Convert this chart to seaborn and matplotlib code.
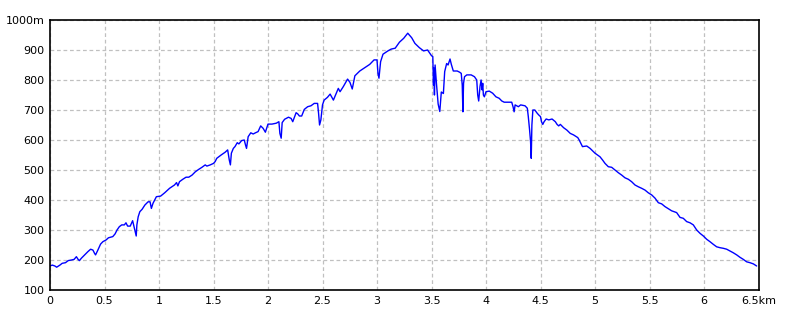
import matplotlib
matplotlib.use("Agg")
import matplotlib.pyplot as plt
import seaborn as sns
import pandas as pd

distance_km = [
    0.0, 0.021, 0.045, 0.061, 0.091, 0.112, 0.142, 0.167, 0.197, 0.221, 0.242, 0.258, 0.27, 0.288,
    0.318, 0.348, 0.373, 0.394, 0.409, 0.418, 0.439, 0.464, 0.485, 0.515, 0.536, 0.576, 0.597, 0.615,
    0.636, 0.658, 0.682, 0.697, 0.712, 0.736, 0.758, 0.767, 0.791, 0.797, 0.809, 0.824, 0.845, 0.87,
    0.9, 0.918, 0.93, 0.945, 0.976, 1.015, 1.052, 1.097, 1.142, 1.161, 1.173, 1.188, 1.218, 1.248,
    1.273, 1.303, 1.333, 1.364, 1.394, 1.424, 1.439, 1.47, 1.5, 1.515, 1.53, 1.57, 1.606, 1.63,
    1.645, 1.655, 1.664, 1.682, 1.697, 1.718, 1.733, 1.758, 1.782, 1.794, 1.803, 1.818, 1.842, 1.864,
    1.885, 1.909, 1.933, 1.955, 1.976, 2.0, 2.036, 2.076, 2.1, 2.109, 2.121, 2.13, 2.152, 2.188,
    2.212, 2.227, 2.258, 2.273, 2.288, 2.309, 2.333, 2.364, 2.394, 2.424, 2.455, 2.464, 2.473, 2.485,
    2.5, 2.515, 2.545, 2.57, 2.6, 2.645, 2.661, 2.691, 2.73, 2.752, 2.773, 2.797, 2.842, 2.888,
    2.933, 2.973, 3.0, 3.009, 3.018, 3.033, 3.055, 3.1, 3.13, 3.167, 3.206, 3.245, 3.282, 3.318,
    3.348, 3.388, 3.427, 3.464, 3.5, 3.512, 3.518, 3.522, 3.527, 3.533, 3.545, 3.561, 3.576, 3.59,
    3.609, 3.621, 3.639, 3.652, 3.67, 3.682, 3.7, 3.736, 3.758, 3.773, 3.782, 3.788, 3.794, 3.803,
    3.824, 3.864, 3.894, 3.915, 3.924, 3.933, 3.945, 3.955, 3.964, 3.97, 3.976, 3.985, 4.0, 4.03,
    4.061, 4.091, 4.121, 4.145, 4.167, 4.236, 4.248, 4.258, 4.267, 4.297, 4.318, 4.358, 4.379, 4.388,
    4.4, 4.409, 4.415, 4.421, 4.43, 4.448, 4.47, 4.485, 4.5, 4.509, 4.521, 4.533, 4.552, 4.576,
    4.606, 4.636, 4.652, 4.667, 4.682, 4.712, 4.742, 4.773, 4.803, 4.842, 4.855, 4.885, 4.924, 4.955,
    5.0, 5.046, 5.07, 5.092, 5.122, 5.153, 5.184, 5.214, 5.245, 5.275, 5.306, 5.336, 5.367, 5.398,
    5.428, 5.459, 5.489, 5.52, 5.551, 5.581, 5.612, 5.642, 5.673, 5.703, 5.749, 5.78, 5.81, 5.841,
    5.872, 5.902, 5.933, 5.963, 5.994, 6.025, 6.055, 6.086, 6.116, 6.147, 6.177, 6.208, 6.239, 6.269,
    6.3, 6.33, 6.361, 6.391, 6.422, 6.453, 6.483,
]

elevation_m = [
    180, 183, 180, 176, 183, 189, 191, 198, 200, 202, 211, 202, 198, 206,
    217, 228, 236, 233, 222, 217, 233, 253, 261, 267, 274, 278, 287, 300,
    311, 317, 317, 324, 313, 313, 331, 317, 280, 317, 344, 361, 369, 383,
    394, 394, 372, 389, 411, 413, 424, 439, 450, 458, 447, 461, 469, 476,
    476, 483, 494, 502, 509, 517, 513, 517, 522, 528, 539, 550, 559, 567,
    533, 517, 556, 572, 578, 591, 587, 598, 600, 583, 572, 611, 624, 620,
    624, 628, 647, 639, 626, 653, 653, 656, 661, 622, 606, 658, 669, 676,
    672, 661, 691, 687, 680, 680, 702, 711, 714, 722, 722, 689, 650, 667,
    717, 733, 742, 753, 733, 772, 761, 778, 803, 792, 770, 814, 830, 841,
    852, 867, 867, 822, 806, 861, 886, 897, 903, 906, 926, 939, 956, 941,
    922, 908, 897, 900, 881, 878, 783, 840, 750, 850, 790, 720, 695, 760,
    755, 828, 855, 850, 870, 852, 830, 830, 826, 822, 783, 694, 789, 811,
    817, 817, 811, 800, 750, 730, 778, 800, 767, 789, 750, 744, 761, 763,
    756, 744, 739, 730, 726, 726, 711, 694, 717, 711, 717, 714, 706, 678,
    633, 594, 539, 650, 700, 700, 689, 683, 678, 661, 652, 661, 670, 667,
    670, 661, 652, 647, 652, 641, 633, 622, 617, 608, 600, 578, 580, 572,
    556, 544, 533, 522, 511, 509, 500, 491, 483, 474, 469, 461, 450, 444,
    439, 433, 424, 417, 406, 391, 387, 378, 371, 364, 358, 342, 339, 328,
    324, 317, 300, 289, 280, 269, 261, 252, 244, 241, 239, 236, 230, 224,
    217, 209, 202, 194, 191, 187, 180,
]

x_ticks = [0, 0.5, 1, 1.5, 2, 2.5, 3, 3.5, 4, 4.5, 5, 5.5, 6, 6.5]
x_tick_labels = ["0", "0.5", "1", "1.5", "2", "2.5", "3", "3.5", "4", "4.5", "5", "5.5", "6", "6.5km"]
y_ticks = [100, 200, 300, 400, 500, 600, 700, 800, 900, 1000]
y_tick_labels = ["100", "200", "300", "400", "500", "600", "700", "800", "900", "1000m"]

df = pd.DataFrame({"km": distance_km, "m": elevation_m})

sns.set_style("white")
plt.rcParams["font.family"] = ["DejaVu Sans"]

fig = plt.figure(figsize=(8, 3.2), dpi=100)
ax = fig.add_axes([50 / 800, 1 - 290 / 320, 708.5 / 800, 270 / 320])

sns.lineplot(data=df, x="km", y="m", ax=ax, color="#0000ff", linewidth=1.0,
             estimator=None, sort=False)

ax.set_xlim(0, 6.5)
ax.set_ylim(100, 1000)
ax.set_xticks(x_ticks)
ax.set_xticklabels(x_tick_labels)
ax.set_yticks(y_ticks)
ax.set_yticklabels(y_tick_labels)
ax.set_xlabel("")
ax.set_ylabel("")
ax.grid(True, color="#c0c0c0", linestyle=(0, (3, 2.2)), linewidth=0.9)
ax.set_axisbelow(True)
ax.tick_params(axis="both", length=0, labelsize=8, colors="black", pad=4)
for s in ax.spines.values():
    s.set_color("black")
    s.set_linewidth(1.2)

fig.savefig("out.png", dpi=100, facecolor="white")
